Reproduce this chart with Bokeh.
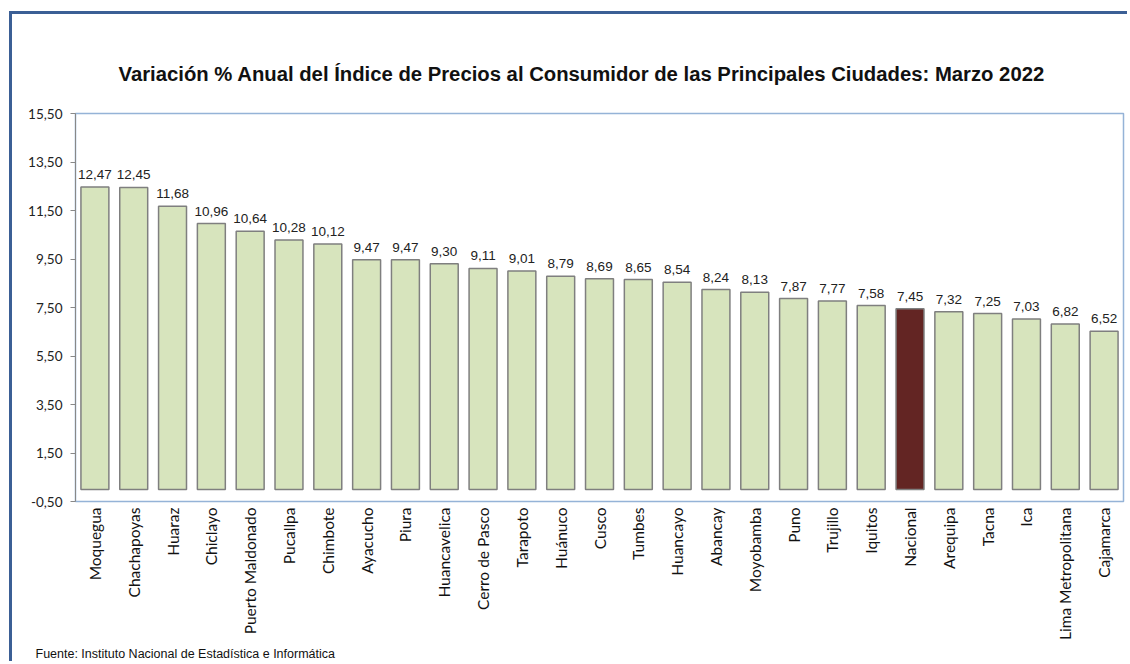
import math
from bokeh.plotting import figure
from bokeh.models import ColumnDataSource, FixedTicker, CustomJSTickFormatter, Range1d, Title, LabelSet
from bokeh.core.properties import value
from bokeh.embed import file_html
from bokeh.resources import INLINE

cities = ["Moquegua", "Chachapoyas", "Huaraz", "Chiclayo", "Puerto Maldonado", "Pucallpa",
          "Chimbote", "Ayacucho", "Piura", "Huancavelica", "Cerro de Pasco", "Tarapoto",
          "Huánuco", "Cusco", "Tumbes", "Huancayo", "Abancay", "Moyobamba", "Puno",
          "Trujillo", "Iquitos", "Nacional", "Arequipa", "Tacna", "Ica",
          "Lima Metropolitana", "Cajamarca"]
values = [12.47, 12.45, 11.68, 10.96, 10.64, 10.28, 10.12, 9.47, 9.47, 9.30, 9.11, 9.01,
          8.79, 8.69, 8.65, 8.54, 8.24, 8.13, 7.87, 7.77, 7.58, 7.45, 7.32, 7.25, 7.03,
          6.82, 6.52]
highlight = "Nacional"
y_ticks = [-0.5, 1.5, 3.5, 5.5, 7.5, 9.5, 11.5, 13.5, 15.5]

title_text = "Variación % Anual del Índice de Precios al Consumidor de las Principales Ciudades: Marzo 2022"
source_text = "Fuente: Instituto Nacional de Estadística e Informática"

GREEN = "#d7e4bd"
MAROON = "#632523"

src = ColumnDataSource(dict(
    city=cities,
    val=values,
    lbl=[f"{v:.2f}".replace(".", ",") for v in values],
    color=[MAROON if c == highlight else GREEN for c in cities],
))

p = figure(x_range=cities, y_range=Range1d(y_ticks[0], y_ticks[-1]),
           width=1118, height=650, output_backend="svg", toolbar_location=None,
           min_border_left=63, min_border_right=7, min_border_top=99, min_border_bottom=163)

p.vbar(x="city", top="val", bottom=0, width=0.72, source=src,
       fill_color="color", line_color="#7f7f7f", line_width=1.5)

labels = LabelSet(x="city", y="val", text="lbl", source=src, text_align="center",
                  text_baseline="bottom", y_offset=8, text_font=value("Liberation Sans"),
                  text_font_size="13.5px", text_color="#222222")
p.add_layout(labels)

p.xgrid.visible = False
p.ygrid.visible = False
p.outline_line_color = "#95b3d7"
p.outline_line_width = 1.5

p.yaxis.ticker = FixedTicker(ticks=y_ticks)
p.yaxis.formatter = CustomJSTickFormatter(code="return tick.toFixed(2).replace('.', ',');")
p.yaxis.axis_line_color = "#888888"
p.yaxis.major_tick_line_color = "#888888"
p.yaxis.major_tick_out = 5
p.yaxis.major_tick_in = 0
p.yaxis.minor_tick_line_color = None
p.yaxis.major_label_text_font = "Lato"
p.yaxis.major_label_text_font_size = "13.5px"
p.yaxis.major_label_text_color = "#222222"
p.yaxis.major_label_standoff = 8

p.xaxis.axis_line_color = "#95b3d7"
p.xaxis.major_tick_line_color = None
p.xaxis.minor_tick_line_color = None
p.xaxis.major_label_orientation = math.pi / 2
p.xaxis.major_label_text_font = "Lato"
p.xaxis.major_label_text_font_size = "15.5px"
p.xaxis.major_label_text_color = "#111111"
p.xaxis.major_label_standoff = 0

t = Title(text=title_text, align="left", offset=43, standoff=58,
          text_font="Liberation Sans", text_font_style="bold",
          text_font_size="20.3px", text_color="#111111")
p.add_layout(t, "above")

s = Title(text=source_text, align="left", offset=-40, standoff=2,
          text_font="Liberation Sans", text_font_style="normal",
          text_font_size="12.5px", text_color="#111111")
p.add_layout(s, "below")

p.margin = (11, 0, 0, 9)
p.styles = {"border-left": "3px solid #3b5f95", "border-top": "3px solid #3b5f95"}

open("out.html", "w").write(file_html(p, INLINE))
